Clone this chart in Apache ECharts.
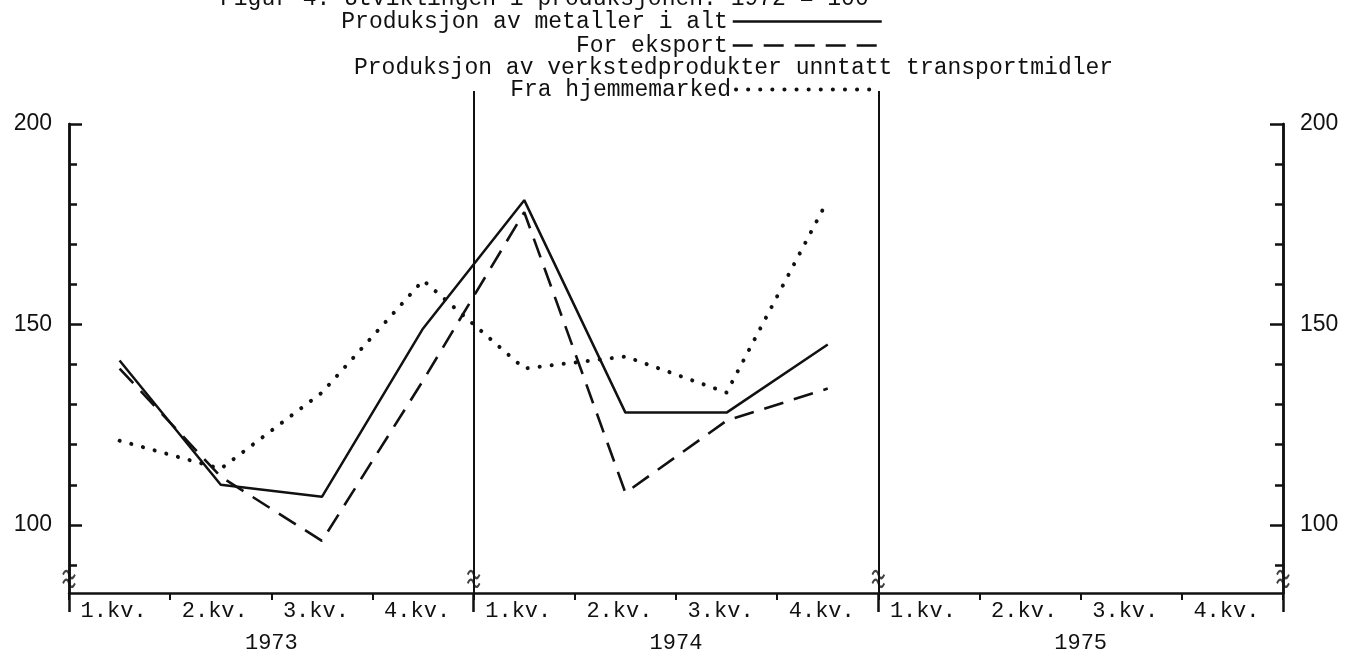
<!DOCTYPE html>
<html>
<head>
<meta charset="utf-8">
<script src="https://cdn.jsdelivr.net/npm/echarts@6/dist/echarts.min.js"></script>
<style>
  html, body { margin: 0; padding: 0; background: #fff; }
  #chart { width: 1347px; height: 654px; }
</style>
</head>
<body>
<div id="chart"></div>
<script>
// kvartaler og år
const quarters = ['1.kv.', '2.kv.', '3.kv.', '4.kv.', '1.kv.', '2.kv.', '3.kv.', '4.kv.', '1.kv.', '2.kv.', '3.kv.', '4.kv.'];
const years = ['1973', '1974', '1975'];
// indekser lest av figuren (1975 er tom)
const metallerIAlt = [141, 110, 107, 149, 181, 128, 128, 145, null, null, null, null];
const forEksport = [139, 112, 96, 136, 178, 108, 126, 134, null, null, null, null];
const fraHjemmemarked = [121, 114, 133, 161, 139, 142, 133, 181, null, null, null, null];
// akse-merker
const yMajorTicks = [100, 150, 200];
const yMinorTicks = [90, 110, 120, 130, 140, 160, 170, 180, 190];
const yearBounds = [0, 4, 8, 12];
const innerBounds = [4, 8];

const ink = '#111';
const mono = 'Liberation Mono';

const solidStyle = { color: ink, width: 2.5, type: 'solid' };
const dashStyle = { color: ink, width: 2.6, type: [20, 11] };
const dotStyle = { color: ink, width: 4, type: [0.1, 12], cap: 'round' };

const chart = echarts.init(document.getElementById('chart'));

function yAxisCfg(pos, ticks, len, withLabels) {
  return {
    type: 'value',
    position: pos,
    min: 83,
    max: 200,
    axisLine: { show: true, lineStyle: { color: ink, width: 2.5 } },
    axisTick: { show: true, inside: true, length: len, customValues: ticks, lineStyle: { color: ink, width: 2.5 } },
    axisLabel: { show: withLabels, customValues: yMajorTicks, fontFamily: 'Liberation Sans', fontSize: 23, color: ink, margin: 17 },
    splitLine: { show: false }
  };
}

function legendCfg(name, top, width, lineStyle) {
  return {
    data: [name],
    right: 459, top: top, align: 'right',
    itemWidth: width, itemHeight: 16,
    itemStyle: { color: 'rgba(0,0,0,0)', borderWidth: 0, opacity: 0 },
    lineStyle: lineStyle,
    textStyle: { fontFamily: mono, fontSize: 23, color: ink }
  };
}

const option = {
  animation: false,
  backgroundColor: '#fff',
  title: [
    {
      // overskrift, avskåret i toppen av bildet
      text: 'Figur 4. Utviklingen i produksjonen. 1972 = 100',
      left: 215,
      top: -18,
      textStyle: { fontFamily: mono, fontSize: 23, fontWeight: 'normal', color: ink }
    },
    {
      text: 'Produksjon av verkstedprodukter unntatt transportmidler',
      left: 349,
      top: 51,
      textStyle: { fontFamily: mono, fontSize: 23, fontWeight: 'normal', color: ink }
    }
  ],
  legend: [
    legendCfg('Produksjon av metaller i alt', 5, 149, solidStyle),
    legendCfg('For eksport', 29, 149, dashStyle),
    legendCfg('Fra hjemmemarked', 73, 145, dotStyle)
  ],
  grid: { left: 69, right: 64, top: 124, bottom: 57 },
  xAxis: [
    {
      type: 'category',
      data: quarters,
      position: 'bottom',
      boundaryGap: true,
      axisLine: { show: true, lineStyle: { color: ink, width: 2.5 } },
      axisTick: { show: true, length: 7, interval: 0, lineStyle: { color: ink, width: 2 } },
      axisLabel: { interval: 0, fontFamily: mono, fontSize: 22, color: ink, margin: 7, padding: [0, 12, 0, 0] },
      splitLine: { show: false }
    },
    {
      type: 'category',
      data: years,
      position: 'bottom',
      axisLine: { show: false },
      axisTick: { show: false },
      axisLabel: { fontFamily: mono, fontSize: 22, color: ink, margin: 39 },
      splitLine: { show: false }
    },
    {
      type: 'value', min: 0, max: 12, position: 'bottom',
      axisLine: { show: false },
      axisLabel: { show: false },
      axisTick: { show: true, inside: true, length: 502, customValues: innerBounds, lineStyle: { color: ink, width: 2 } },
      splitLine: { show: false }
    },
    {
      type: 'value', min: 0, max: 12, position: 'bottom',
      axisLine: { show: false },
      axisLabel: { show: false },
      axisTick: { show: true, length: 19, customValues: yearBounds, lineStyle: { color: ink, width: 2.5 } },
      splitLine: { show: false }
    }
  ],
  yAxis: [
    yAxisCfg('left', yMajorTicks, 13, true),
    yAxisCfg('left', yMinorTicks, 8, false),
    yAxisCfg('right', yMajorTicks, 13, true),
    yAxisCfg('right', yMinorTicks, 8, false)
  ],
  series: [
    {
      name: 'Produksjon av metaller i alt',
      type: 'line', data: metallerIAlt, symbol: 'none',
      lineStyle: solidStyle,
      itemStyle: { color: ink }
    },
    {
      name: 'For eksport',
      type: 'line', data: forEksport, symbol: 'none',
      lineStyle: dashStyle,
      itemStyle: { color: ink }
    },
    {
      name: 'Fra hjemmemarked',
      type: 'line', data: fraHjemmemarked, symbol: 'none',
      lineStyle: dotStyle,
      itemStyle: { color: ink }
    },
    {
      // brudd-tegn på aksene
      name: 'brudd',
      type: 'scatter', xAxisIndex: 3, yAxisIndex: 0, silent: true,
      data: yearBounds.map(b => [b, 86.5]),
      symbol: 'path://M0,5 C3,0 6,0 8,5 C10,10 13,10 16,5 M0,14 C3,9 6,9 8,14 C10,19 13,19 16,14',
      symbolSize: [12, 16],
      itemStyle: { color: 'none', borderColor: ink, borderWidth: 2 }
    }
  ]
};

chart.setOption(option);
</script>
</body>
</html>
